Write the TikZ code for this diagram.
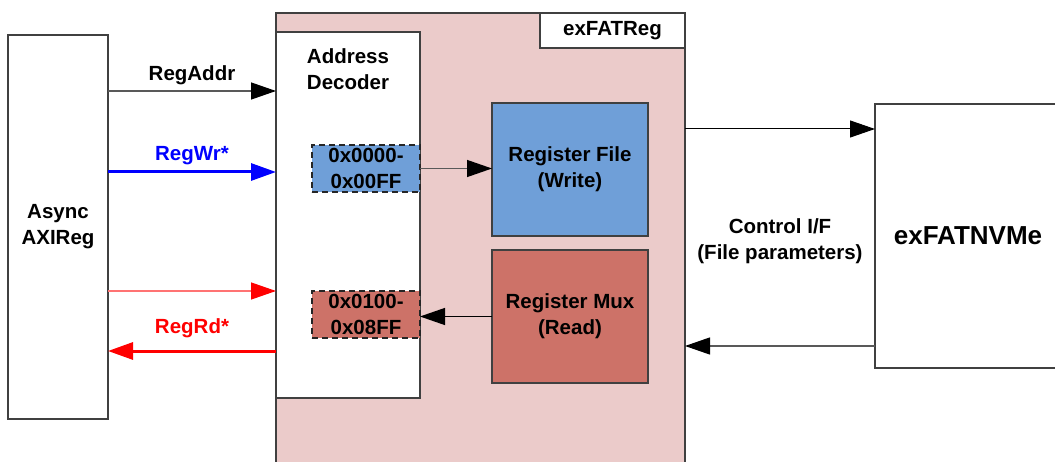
\documentclass[tikz,border=0pt]{standalone}
\usepackage{fontspec}
\setmainfont{Liberation Sans}
\usetikzlibrary{arrows.meta, calc}
\definecolor{regpink}{HTML}{EBCBCA}
\definecolor{wrblue}{HTML}{6F9FD8}
\definecolor{rdred}{HTML}{CD7268}
\definecolor{edge}{HTML}{404040}

\begin{document}
\begin{tikzpicture}[x=1pt,y=-1pt]
      \tikzset{block/.style={draw=edge,line width=1.3pt,
          inner sep=0pt, outer sep=0pt,
          minimum width=#1},
        txt/.style={font=\fontsize{20.5}{26}\selectfont\bfseries,
          align=center},
        rangebox/.style={block=108pt,minimum height=47pt,
          dashed,dash pattern=on 6pt off 4pt,draw=black!85,line width=1.5pt},
        headtip/.style={-{Triangle[length=25pt,width=17pt,color=#1]}},
        headtip/.default=black,
        sigline/.style={headtip,draw=black!65,line width=1.3pt}
      }
      \clip (0,0) rectangle (1055,462);
      \fill [white] (0,0) rectangle (1055,462);

      \node [block=409pt,minimum height=470pt,fill=regpink] (reg) at (480.5,248) {};
      \node [block=145pt,minimum height=35pt,fill=white,txt] (regname) at (612.5,30.5) {exFATReg};
      \node [block=100pt,minimum height=384pt,fill=white,txt] (axi) at (58,227) {Async\\AXIReg};
      \node [block=144pt,minimum height=366pt,fill=white] (dec) at (348,215) {};
      \node [txt] (dectext) at (348,69) {Address\\Decoder};
      \node [rangebox,fill=wrblue,txt] (wrrange) at (366,168.5) {0x0000-\\0x00FF};
      \node [rangebox,fill=rdred,txt] (rdrange) at (366,314.5) {0x0100-\\0x08FF};
      \node [block=156pt,minimum height=133pt,fill=wrblue,txt] (regfile) at (570,169.5) {Register File\\(Write)};
      \node [block=156pt,minimum height=133pt,fill=rdred,txt] (regmux) at (570,316.5) {Register Mux\\(Read)};
      \node [block=190pt,minimum height=264pt,fill=white] (nvme) at (970,236) {};
      \node [font=\fontsize{26}{30}\selectfont\bfseries] (nvmetext) at (968,236) {exFATNVMe};
      \node [txt] (ctrl) at (780,241) {Control I/F\\(File parameters)};

      \draw [sigline] ([yshift=136pt]axi.east) -- ([yshift=136pt]axi.east -| dec.west)
        node [midway,above=2pt,txt] (addrlbl) {RegAddr};
      \draw [headtip=blue,blue,line width=3pt] ([yshift=55pt]axi.east) -- ([yshift=55pt]axi.east -| dec.west)
        node [midway,above=2pt,txt] (wrlbl) {RegWr*};
      \draw [headtip=red,red!55,line width=1.3pt] ([yshift=-64pt]axi.east) -- ([yshift=-64pt]axi.east -| dec.west);
      \draw [headtip=red,red,line width=3pt] ([yshift=-124pt]axi.east -| dec.west) -- ([yshift=-124pt]axi.east)
        node [midway,above=8pt,txt] (rdlbl) {RegRd*};

      \draw [sigline] (wrrange.east) -- (wrrange.east -| regfile.west);
      \draw [sigline,draw=black] (regmux.west) -- (regmux.west -| rdrange.east);
      \draw [sigline,draw=black,line width=1pt] ([yshift=107pt]nvme.west -| reg.east) -- ([yshift=107pt]nvme.west);
      \draw [sigline] ([yshift=-110pt]nvme.west) -- ([yshift=-110pt]nvme.west -| reg.east);
    \end{tikzpicture}
\end{document}
